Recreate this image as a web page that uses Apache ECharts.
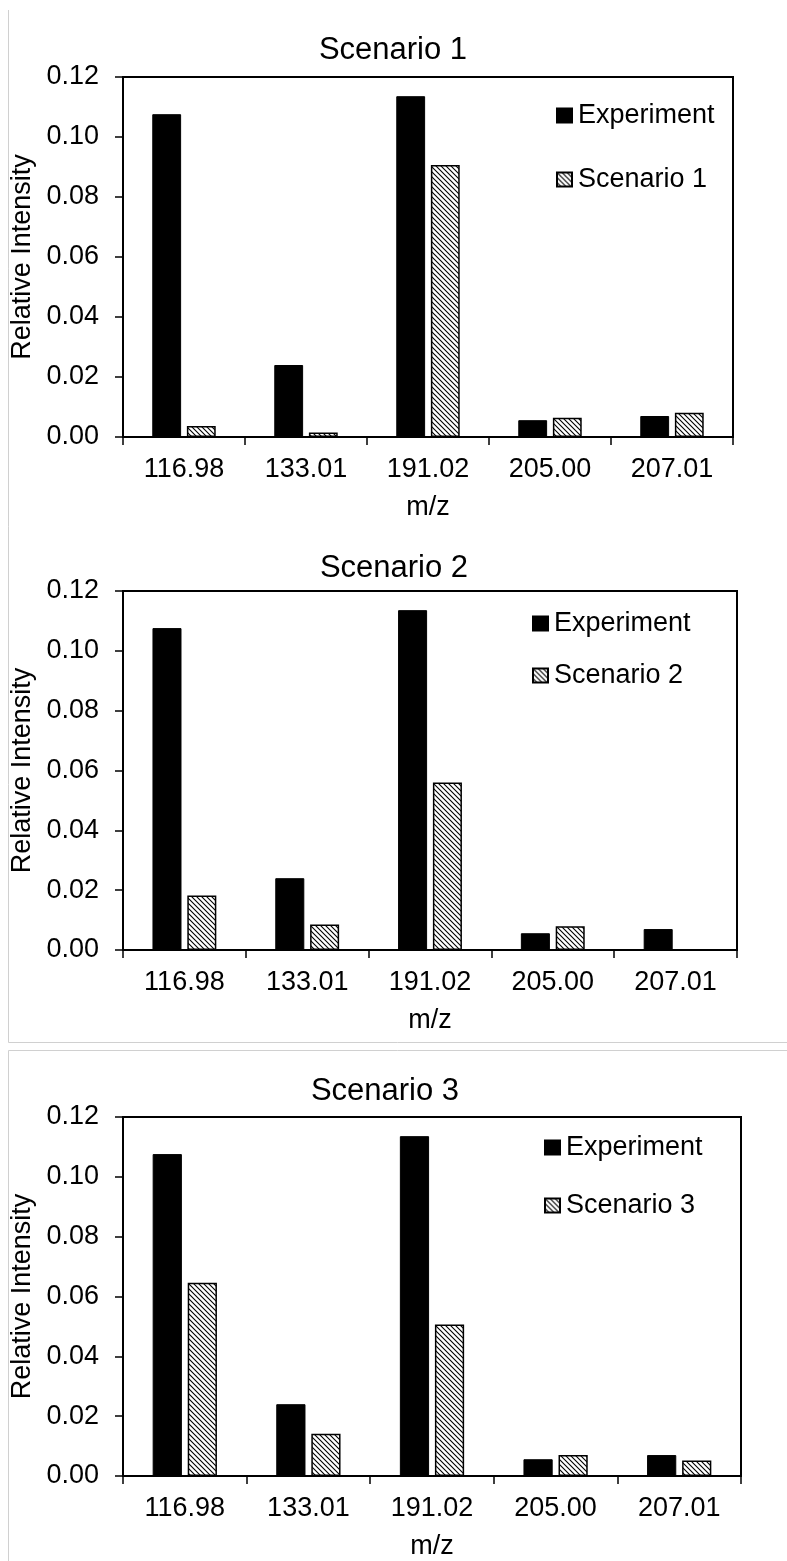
<!DOCTYPE html>
<html>
<head>
<meta charset="utf-8">
<script src="https://cdn.jsdelivr.net/npm/echarts@6/dist/echarts.min.js"></script>
<style>
html,body{margin:0;padding:0;background:#fff;}
#chart{width:787px;height:1561px;}
</style>
</head>
<body>
<div id="chart"></div>
<script>
// ---- data ----
const categories = ['116.98', '133.01', '191.02', '205.00', '207.01'];
const experiment = [0.1076, 0.0240, 0.1136, 0.0056, 0.0070];
const scenario1 = [0.0037, 0.0015, 0.0907, 0.0064, 0.0081];
const scenario2 = [0.0182, 0.0085, 0.0560, 0.0079, null];
const scenario3 = [0.0646, 0.0141, 0.0506, 0.0070, 0.0052];
const scenarioNames = ['Scenario 1', 'Scenario 2', 'Scenario 3'];
const yTicks = [0, 0.02, 0.04, 0.06, 0.08, 0.10, 0.12];
const xAxisTitle = 'm/z';
const yAxisTitle = 'Relative Intensity';

// ---- styles ----
const FONT = "'Liberation Sans', Arial, sans-serif";
function hatch() {
  const s = 5;
  const c = document.createElement('canvas');
  c.width = s; c.height = s;
  const g = c.getContext('2d');
  g.fillStyle = '#fff'; g.fillRect(0, 0, s, s);
  g.strokeStyle = '#000'; g.lineWidth = 1.1;
  g.beginPath();
  g.moveTo(-1, -1); g.lineTo(s + 1, s + 1);
  g.moveTo(-1, s - 1); g.lineTo(1, s + 1);
  g.moveTo(s - 1, -1); g.lineTo(s + 1, 1);
  g.stroke();
  return c;
}
const pattern = { image: hatch(), repeat: 'repeat' };

const panels = [
  { grid: { left: 123, top: 77, width: 610, height: 360 }, title: { x: 388, y: 30 }, legend: { x: 556, y: 102, gap: 37 }, sc: scenario1 },
  { grid: { left: 123, top: 591, width: 614, height: 359 }, title: { x: 389, y: 548 }, legend: { x: 532, y: 610, gap: 25 }, sc: scenario2 },
  { grid: { left: 123, top: 1117, width: 618, height: 360 }, title: { x: 380, y: 1071 }, legend: { x: 544, y: 1134, gap: 31 }, sc: scenario3 }
];

const option = {
  animation: false,
  backgroundColor: '#fff',
  textStyle: { fontFamily: FONT, color: '#000' },
  title: [], legend: [], grid: [], xAxis: [], yAxis: [], series: [],
  graphic: [
    { type: 'line', shape: { x1: 8.5, y1: 10, x2: 8.5, y2: 1042.5 }, style: { stroke: '#d0d0d0', lineWidth: 1 } },
    { type: 'line', shape: { x1: 8.5, y1: 1042.5, x2: 787, y2: 1042.5 }, style: { stroke: '#d0d0d0', lineWidth: 1 } },
    { type: 'line', shape: { x1: 8.5, y1: 1050.5, x2: 787, y2: 1050.5 }, style: { stroke: '#d0d0d0', lineWidth: 1 } },
    { type: 'line', shape: { x1: 8.5, y1: 1050.5, x2: 8.5, y2: 1561 }, style: { stroke: '#d0d0d0', lineWidth: 1 } }
  ]
};

panels.forEach((p, i) => {
  option.title.push({
    text: scenarioNames[i], left: p.title.x, top: p.title.y, textAlign: 'center',
    textStyle: { fontFamily: FONT, fontSize: 31, fontWeight: 'normal', color: '#000' }
  });
  option.legend.push({
    orient: 'vertical', left: p.legend.x, top: p.legend.y, padding: 0,
    itemGap: p.legend.gap, itemWidth: 15, itemHeight: 14, icon: 'rect',
    data: ['Experiment', scenarioNames[i]],
    textStyle: { fontFamily: FONT, fontSize: 27, color: '#000', padding: [0, 0, 0, 1] },
    selectedMode: false
  });
  option.grid.push(Object.assign({ show: true, borderColor: '#000', borderWidth: 2, backgroundColor: 'transparent', containLabel: false }, p.grid));
  option.xAxis.push({
    type: 'category', gridIndex: i, data: categories,
    name: xAxisTitle, nameLocation: 'middle', nameGap: 57,
    nameTextStyle: { fontFamily: FONT, fontSize: 27, color: '#000' },
    axisLine: { lineStyle: { color: '#000', width: 2 } },
    axisTick: { show: true, inside: false, length: 8, lineStyle: { color: '#000', width: 1.5 } },
    axisLabel: { fontFamily: FONT, fontSize: 27, color: '#000', margin: 19 },
    splitLine: { show: false }
  });
  option.yAxis.push({
    type: 'value', gridIndex: i, min: yTicks[0], max: yTicks[yTicks.length - 1], interval: yTicks[1] - yTicks[0],
    name: yAxisTitle, nameLocation: 'middle', nameGap: 86,
    nameTextStyle: { fontFamily: FONT, fontSize: 27, color: '#000' },
    axisLine: { show: true, lineStyle: { color: '#000', width: 2 } },
    axisTick: { show: true, inside: false, length: 8, lineStyle: { color: '#000', width: 1.5 } },
    axisLabel: { fontFamily: FONT, fontSize: 27, color: '#000', margin: 24, formatter: v => v.toFixed(2) },
    splitLine: { show: false }
  });
  option.series.push({
    name: 'Experiment', type: 'bar', xAxisIndex: i, yAxisIndex: i, data: experiment,
    barGap: '20%', barCategoryGap: '48%',
    itemStyle: { color: '#000', borderColor: '#000', borderWidth: 1 }
  });
  option.series.push({
    name: scenarioNames[i], type: 'bar', xAxisIndex: i, yAxisIndex: i, data: p.sc,
    barGap: '20%', barCategoryGap: '48%',
    itemStyle: { color: pattern, borderColor: '#000', borderWidth: 1.5 }
  });
});

const chart = echarts.init(document.getElementById('chart'), null, { renderer: 'canvas' });
chart.setOption(option);
</script>
</body>
</html>
